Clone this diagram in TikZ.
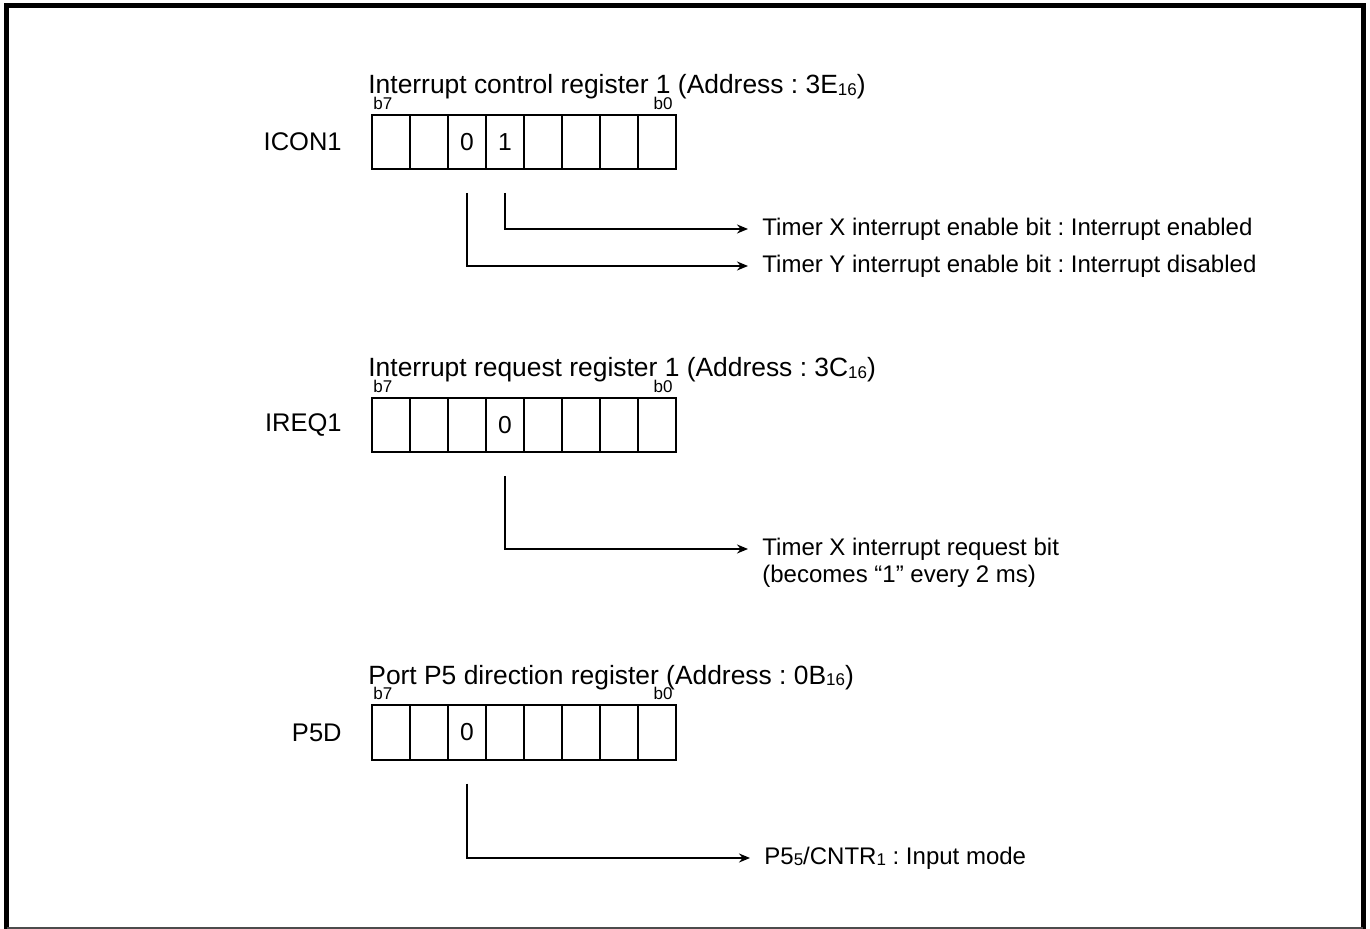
\documentclass[tikz,border=0pt]{standalone}
\usepackage{fontspec}
\setmainfont{Liberation Sans}
\usetikzlibrary{arrows.meta, positioning}
\newcommand{\lowsub}[1]{\raisebox{-0.6pt}{\fontsize{8.5}{8.5}\selectfont #1}}
\frenchspacing

\begin{document}
\begin{tikzpicture}[x=0.5pt, y=-0.5pt, >={Stealth[length=5.5pt, width=4.5pt]},
  cell/.style={draw, line width=1pt, minimum width=19pt, minimum height=27pt,
    inner sep=0pt, outer sep=0pt, font=\fontsize{12.3}{13.5}\selectfont},
  regname/.style={inner sep=0pt, font=\fontsize{12.75}{14}\selectfont},
  regtitle/.style={anchor=base west, inner sep=0pt, font=\fontsize{13.2}{14}\selectfont},
  bitno/.style={inner sep=0pt, font=\fontsize{8.5}{9}\selectfont},
  lbl/.style={anchor=west, inner xsep=7pt, inner ysep=1pt, font=\fontsize{12}{13.5}\selectfont},
  lead/.style={->, line width=0.9pt}]

\useasboundingbox (0,0) rectangle (1370,929);

% Frame
\draw[line width=2.5pt] (6.5,929) -- (6.5,5.5) -- (1363,5.5) -- (1363,929);
\draw[line width=0.6pt, black!70] (6.5,928) -- (1363,928);

% =========== ICON1 ===========
\foreach \b/\v in {7/{},6/{},5/0,4/1,3/{},2/{},1/{},0/{}}
  \node[cell] (r1b\b) at ({391+38*(7-\b)},142) {\v};
\node[regname, left=15pt of r1b7] (icon) {ICON1};
\node[regtitle] (icontitle) at ([shift={(-4,-21)}]r1b7.north west)
  {Interrupt control register 1 (Address : 3E\lowsub{16})};
\node[bitno, above right=2.5pt and 0.5pt] at (r1b7.north west) {b7};
\node[bitno, above left=2.5pt and 1.5pt] at (r1b0.north east) {b0};

\node[lbl] (txen) at (748,229) {Timer X interrupt enable bit : Interrupt enabled};
\node[lbl] (tyen) at (748,266) {Timer Y interrupt enable bit : Interrupt disabled};
\draw[lead] ([yshift=-12pt]r1b4.south) |- (txen.west);
\draw[lead] ([yshift=-12pt]r1b5.south) |- (tyen.west);

% =========== IREQ1 ===========
\foreach \b/\v in {7/{},6/{},5/{},4/0,3/{},2/{},1/{},0/{}}
  \node[cell] (r2b\b) at ({391+38*(7-\b)},425) {\v};
\node[regname, left=15pt of r2b7] (ireq) {IREQ1};
\node[regtitle] (ireqtitle) at ([shift={(-4,-21)}]r2b7.north west)
  {Interrupt request register 1 (Address : 3C\lowsub{16})};
\node[bitno, above right=2.5pt and 0.5pt] at (r2b7.north west) {b7};
\node[bitno, above left=2.5pt and 1.5pt] at (r2b0.north east) {b0};

\node[lbl] (txreq) at (748,549) {Timer X interrupt request bit};
\node[lbl, anchor=base west] (txreqb) at ([shift={(0,27)}]txreq.base west)
  {(becomes “1” every 2 ms)};
\draw[lead] ([yshift=-12pt]r2b4.south) |- (txreq.west);

% =========== P5D ===========
\foreach \b/\v in {7/{},6/{},5/0,4/{},3/{},2/{},1/{},0/{}}
  \node[cell] (r3b\b) at ({391+38*(7-\b)},732.5) {\v};
\node[regname, left=15pt of r3b7] (pfd) {P5D};
\node[regtitle] (pfdtitle) at ([shift={(-4,-21)}]r3b7.north west)
  {Port P5 direction register (Address : 0B\lowsub{16})};
\node[bitno, above right=2.5pt and 0.5pt] at (r3b7.north west) {b7};
\node[bitno, above left=2.5pt and 1.5pt] at (r3b0.north east) {b0};

\node[lbl] (cntr) at (750,858) {P5\lowsub{5}/CNTR\lowsub{1} : Input mode};
\draw[lead] ([yshift=-12pt]r3b5.south) |- (cntr.west);

\end{tikzpicture}
\end{document}
